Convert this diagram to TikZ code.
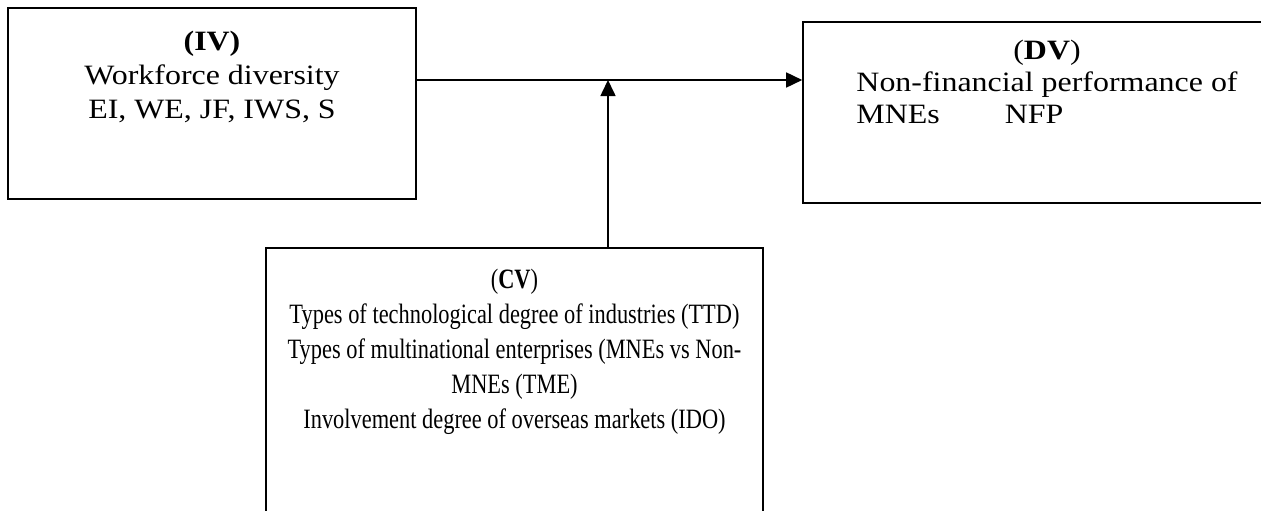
\documentclass[tikz,border=0pt]{standalone}
\usepackage{fontspec}
\setmainfont{Liberation Serif}
\newfontfamily\widefont[FakeStretch=1.14]{Liberation Serif}
\newfontfamily\narrowfont[FakeStretch=0.8]{Liberation Serif}
\usetikzlibrary{positioning,arrows.meta}

\begin{document}
\begin{tikzpicture}[x=1pt,y=-1pt,
  box/.style={draw,line width=1.6pt,inner sep=0pt},
  txt/.style={inner sep=0pt,align=center},
  arr/.style={-{Triangle[length=16pt,width=15pt]},line width=1.6pt}]
\useasboundingbox (0,0) rectangle (1261,511);

% boxes
\node[box,minimum width=408pt,minimum height=191pt] (iv) at (212,103.5) {};
\node[box,minimum width=488pt,minimum height=181pt] (dv) at (1047,112.5) {};
\node[box,minimum width=497pt,minimum height=300pt] (cv) at (514.5,398) {};

% texts
\node[txt,below=24pt of iv.north,font=\widefont\fontsize{28}{34}\selectfont] (ivtext)
  {\textbf{(IV)}\\Workforce diversity\\EI, WE, JF, IWS, S};
\node[txt,below=19pt of dv.north,font=\widefont\fontsize{28}{32}\selectfont] (dvtext)
  {(\textbf{DV})\\\begin{tabular}[t]{@{}l@{}}Non-financial performance of\\MNEs\hspace{65pt}NFP\end{tabular}};
\node[txt,below=22pt of cv.north,font=\narrowfont\fontsize{28}{35}\selectfont] (cvtext)
  {(\textbf{CV})\\Types of technological degree of industries (TTD)\\
   Types of multinational enterprises (MNEs vs Non-\\MNEs (TME)\\
   Involvement degree of overseas markets (IDO)};

% arrows
\draw[arr] ([yshift=23.5pt]iv.east) coordinate (a) -- (a -| dv.west);
\draw[arr] ([xshift=93.5pt]cv.north) coordinate (b) -- (b |- a);

\end{tikzpicture}
\end{document}
